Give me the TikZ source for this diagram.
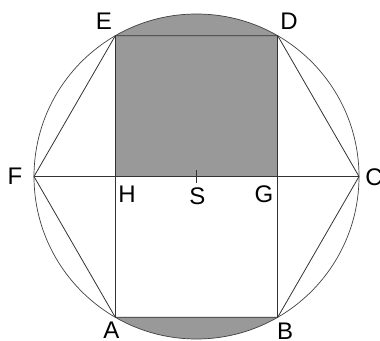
\documentclass[tikz,border=0pt]{standalone}
\usepackage{fontspec}
\setmainfont{Liberation Sans}
\definecolor{boxgray}{RGB}{153,153,153}
\begin{document}
\begin{tikzpicture}[x=1pt,y=-1pt,
  edge/.style={line width=0.8pt,draw=black!80},
  ring/.style={line width=0.7pt,draw=black!75},
  lbl/.style={inner sep=0pt,font=\fontsize{24}{24}\selectfont}]
\useasboundingbox (0,0) rectangle (380,340);
\coordinate (S) at (196.5,176.5);
\coordinate (A) at (115.25,317.2);
\coordinate (B) at (277.75,317.2);
\coordinate (C) at (359,176.5);
\coordinate (D) at (277.75,35.8);
\coordinate (E) at (115.25,35.8);
\coordinate (F) at (34,176.5);
\coordinate (H) at (115.25,176.5);
\coordinate (G) at (277.75,176.5);
\coordinate (St) at (196.5,170);
\coordinate (Sb) at (196.5,183);
% shaded areas
\begin{scope}
  \clip (0,0) rectangle (380,35.8);
  \fill[boxgray] (S) circle[radius=162.5pt];
\end{scope}
\begin{scope}
  \clip (0,317.2) rectangle (380,340);
  \fill[boxgray] (S) circle[radius=162.5pt];
\end{scope}
\fill[boxgray] (E) rectangle (G);
% circle
\draw[ring] (S) circle[radius=162.5pt];
% hexagon
\draw[edge] (A) -- (B) -- (C) -- (D) -- (E) -- (F) -- cycle;
\draw[edge] (F) -- (C);
\draw[edge] (E) -- (A);
\draw[edge] (D) -- (B);
\draw[edge] (St) -- (Sb);
% labels
\node[lbl] (lE) at (104,21.5) {E};
\node[lbl] (lD) at (289,21.5) {D};
\node[lbl] (lF) at (15,176.5) {F};
\node[lbl] (lC) at (374,177) {C};
\node[lbl] (lH) at (127,194) {H};
\node[lbl] (lS) at (197.5,196) {S};
\node[lbl] (lG) at (264,194) {G};
\node[lbl] (lA) at (111.5,330) {A};
\node[lbl] (lB) at (285,331) {B};
\end{tikzpicture}
\end{document}
